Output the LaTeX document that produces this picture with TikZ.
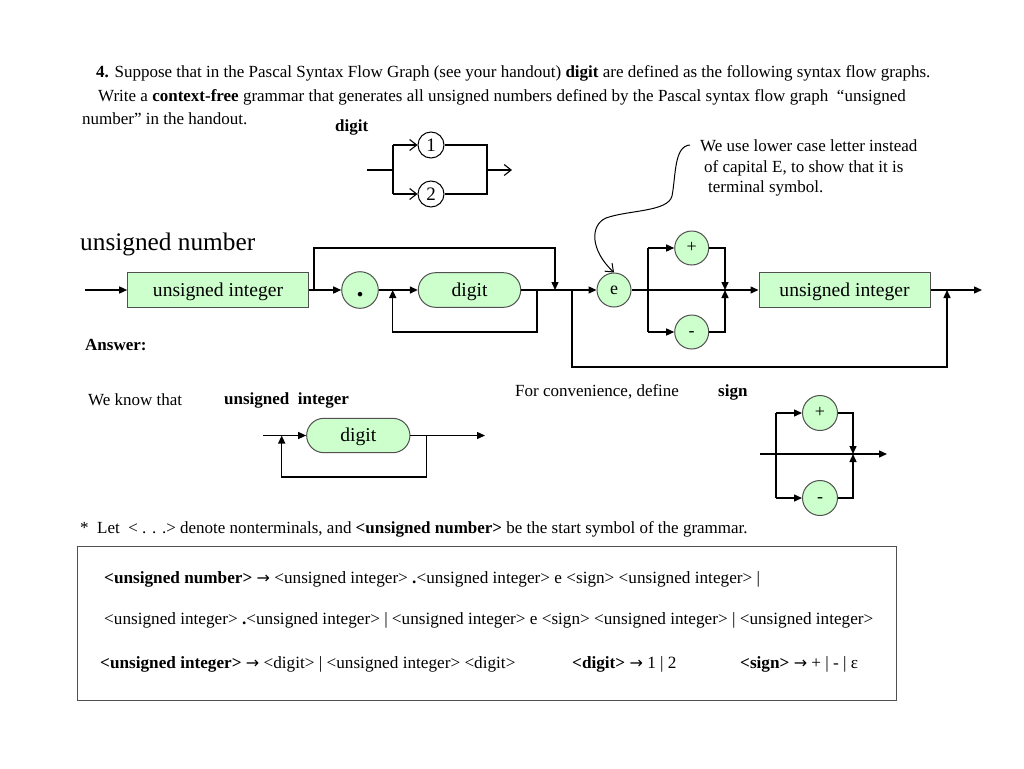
\documentclass[tikz,border=0pt]{standalone}
\usepackage{fontspec}
\setmainfont{Liberation Serif}
\newfontfamily\arrowfont{DejaVu Sans}
\newcommand{\garr}{{\arrowfont\fontsize{16}{16}\selectfont →}}
\usetikzlibrary{arrows.meta}
\definecolor{ggreen}{RGB}{204,255,204}
\definecolor{bord}{RGB}{80,80,80}
\begin{document}
\begin{tikzpicture}[x=1pt,y=-1pt,
  txt/.style={anchor=west,inner sep=0pt,font=\fontsize{17}{20.5}\selectfont},
  gtxt/.style={anchor=west,inner sep=0pt,font=\fontsize{17.2}{20}\selectfont},
  wire/.style={line width=1.4pt},
  arr/.style={wire,-{Triangle[length=8pt,width=7pt]}},
  oarr/.style={line width=1.1pt,-{Straight Barb[length=7pt,width=11pt]}},
  term/.style={circle,draw=bord,fill=ggreen,line width=1pt,minimum size=34pt,inner sep=0pt,text height=9pt,text depth=0pt,font=\fontsize{18}{18}\selectfont},
  nonterm/.style={rectangle,draw=bord,fill=ggreen,line width=1pt,minimum height=34.6pt,inner sep=0pt,text height=14pt,text depth=1.5pt,font=\fontsize{19.6}{19.6}\selectfont},
  roundnt/.style={nonterm,rounded corners=17.2pt},
  dcirc/.style={circle,draw=black,line width=1pt,minimum size=26pt,inner sep=0pt,font=\fontsize{19}{19}\selectfont}
]
\fill[white] (0,0) rectangle (1024,768);
\useasboundingbox (0,0) rectangle (1024,768);

% question text
\node[txt] (q1) at (96,73) {\textbf{4.} Suppose that in the Pascal Syntax Flow Graph (see your handout) \textbf{digit} are defined as the following syntax flow graphs.};
\node[txt] (q2) at (98,97) {Write a \textbf{context-free} grammar that generates all unsigned numbers defined by the Pascal syntax flow graph \ ``unsigned};
\node[txt] (q3) at (82,119) {number'' in the handout.};

% digit graph
\node[txt] (dlab) at (335,127) {\textbf{digit}};
\node[dcirc] (c1) at (431,145) {1};
\node[dcirc] (c2) at (431,194) {2};
\coordinate (din) at (367,170);
\coordinate (dj) at (393,170);
\coordinate (dt) at (393,145);
\coordinate (db) at (393,194);
\coordinate (drt) at (487,145);
\coordinate (drb) at (487,194);
\coordinate (drm) at (487,170);
\coordinate (dout) at (512,170);
\draw[line width=1.1pt] (din) -- (dj);
\draw[line width=1.1pt] (dt) -- (db);
\draw[oarr] (dt) -- (c1.west);
\draw[oarr] (db) -- (c2.west);
\draw[line width=1.1pt] (c1.east) -- (drt) -- (drb) -- (c2.east);
\draw[oarr] (drm) -- (dout);

% annotation
\node[txt,align=left] (note) at (700,168) {We use lower case letter instead\\\hspace*{4pt}of capital E, to show that it is\\\hspace*{8pt}terminal symbol.};

% unsigned number graph
\node[anchor=west,inner sep=0pt,font=\fontsize{25.3}{25.3}\selectfont] (un) at (80,244) {unsigned number};
\coordinate (s0) at (85,290);
\node[nonterm,minimum width=180.6pt] (ui1) at (218,290) {unsigned integer};
\node[term,minimum size=36.6pt,text height=0pt,font=\fontsize{28}{28}\selectfont] (dot) at (360,290) {\raisebox{-6pt}[0pt][0pt]{\textbf{.}}};
\node[roundnt,minimum width=102.4pt] (dg) at (469.5,290) {digit};
\node[term] (e) at (614,290) {e};
\node[term] (pl) at (691.7,248) {+};
\node[term] (mi) at (691.7,332) {-};
\node[nonterm,minimum width=171pt] (ui2) at (844.5,290) {unsigned integer};
\coordinate (s9) at (982,290);

\coordinate (b1) at (314,290);
\coordinate (b1t) at (555,248);
\coordinate (b1e) at (555,290);
\coordinate (l1) at (537,290);
\coordinate (l1b) at (537,332);
\coordinate (l1l) at (392.7,332);
\coordinate (l1e) at (392.7,290);
\coordinate (b2) at (572,290);
\coordinate (b2b) at (947,367);
\coordinate (b2e) at (947,290);
\coordinate (sf) at (648,290);
\coordinate (sft) at (648,248);
\coordinate (sfb) at (648,332);
\coordinate (sjt) at (725,248);
\coordinate (sjb) at (725,332);
\coordinate (sj) at (725,290);

\draw[arr] (s0) -- (ui1.west);
\draw[arr] (ui1.east) -- (dot.west);
\draw[arr] (b1) |- (b1t) -- (b1e);
\draw[arr] (dot.east) -- (dg.west);
\draw[arr] (l1) -- (l1b) -- (l1l) -- (l1e);
\draw[arr] (dg.east) -- (e.west);
\draw[arr] (b2) |- (b2b) -- (b2e);
\draw[arr] (e.east) -- (ui2.west);
\draw[wire] (sft) -- (sfb);
\draw[arr] (sft) -- (pl.west);
\draw[arr] (sfb) -- (mi.west);
\draw[arr] (pl.east) -- (sjt) -- (sj);
\draw[arr] (mi.east) -- (sjb) -- (sj);
\draw[arr] (ui2.east) -- (s9);

% annotation curve
\coordinate (cs) at (690,145);
\draw[oarr,line width=1pt] (cs) .. controls (674,146) and (676,175) .. (672,196)
  .. controls (668,212) and (628,210) .. (606,218)
  .. controls (590,225) and (590,250) .. (e.north);

\node[txt] (ans) at (85,345) {\textbf{Answer:}};

% unsigned integer graph
\node[txt] (wk) at (88,400) {We know that};
\node[txt] (uil) at (224,400) {\textbf{unsigned\ \ integer}};
\node[roundnt,minimum width=103.3pt,minimum height=34.4pt] (dg2) at (358.3,435.5) {digit};
\coordinate (u0) at (263,435.5);
\coordinate (uj) at (281.7,435.5);
\coordinate (ur) at (426.7,435.5);
\coordinate (urb) at (426.7,477);
\coordinate (ulb) at (281.7,477);
\coordinate (u9) at (485,435.5);
\draw[arr] (u0) -- (dg2.west);
\draw[arr] (ur) -- (urb) -- (ulb) -- (uj);
\draw[arr] (dg2.east) -- (u9);

% sign graph
\node[txt] (fc) at (515,392) {For convenience, define};
\node[txt] (sg) at (718,392) {\textbf{sign}};
\node[term,minimum size=35pt] (pl2) at (820,413) {+};
\node[term,minimum size=35pt] (mi2) at (820,498) {-};
\coordinate (g0) at (760,454);
\coordinate (g9) at (887,454);
\coordinate (glt) at (776,413);
\coordinate (glb) at (776,498);
\coordinate (grt) at (853,413);
\coordinate (grb) at (853,498);
\coordinate (grm) at (853,454);
\draw[arr] (g0) -- (g9);
\draw[wire] (glt) -- (glb);
\draw[arr] (glt) -- (pl2.west);
\draw[arr] (glb) -- (mi2.west);
\draw[arr] (pl2.east) -- (grt) -- (grm);
\draw[arr] (mi2.east) -- (grb) -- (grm);

% footnote
\node[txt] (fn) at (80,529) {*\ \ Let \ < . . .> denote nonterminals, and \textbf{<unsigned number>} be the start symbol of the grammar.};

% grammar box
\draw[draw=bord,line width=1pt] (77,546) rectangle (896,700);
\node[gtxt] (g1) at (104,579) {\textbf{<unsigned number>} \garr{} <unsigned integer> {\bfseries\LARGE .}<unsigned integer> e <sign> <unsigned integer> |};
\node[gtxt] (g2) at (104,620) {<unsigned integer> {\bfseries\LARGE .}<unsigned integer> | <unsigned integer> e <sign> <unsigned integer> | <unsigned integer>};
\node[gtxt] (g3) at (100,664) {\textbf{<unsigned integer>} \garr{} <digit> | <unsigned integer> <digit>};
\node[gtxt] (g4) at (572,664) {\textbf{<digit>} \garr{} 1 | 2};
\node[gtxt] (g5) at (740,664) {\textbf{<sign>} \garr{} + | - | ε};
\end{tikzpicture}
\end{document}
